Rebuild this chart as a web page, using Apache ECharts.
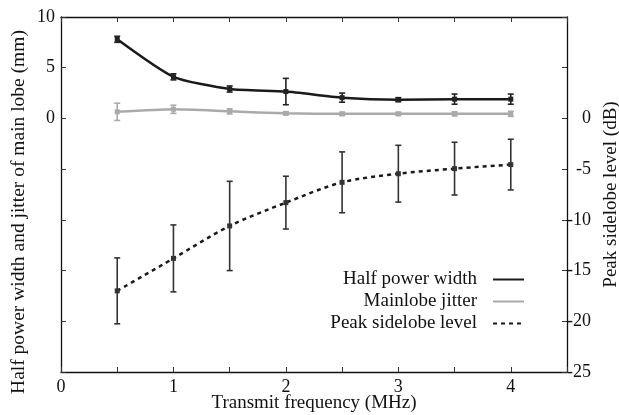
<!DOCTYPE html>
<html>
<head>
<meta charset="utf-8">
<script src="https://cdn.jsdelivr.net/npm/echarts@6/dist/echarts.min.js"></script>
<style>
  html, body { margin: 0; padding: 0; background: #fff; }
  #chart { width: 619px; height: 415px; }
</style>
</head>
<body>
<div id="chart"></div>
<script>
const freqs = [0.5, 1, 1.5, 2, 2.5, 3, 3.5, 4]
const halfPower = [7.8, 4.1, 2.9, 2.65, 2.05, 1.85, 1.9, 1.9]
const halfPowerErr = [0.3, 0.3, 0.3, 1.3, 0.45, 0.2, 0.5, 0.5]
const jitter = [0.65, 0.9, 0.7, 0.5, 0.45, 0.45, 0.45, 0.45]
const jitterErr = [0.85, 0.4, 0.25, 0.15, 0.15, 0.15, 0.2, 0.25]
const sidelobe = [-17, -13.8, -10.6, -8.3, -6.3, -5.45, -4.95, -4.55]
const sidelobeErr = [3.25, 3.3, 4.4, 2.6, 3.0, 2.8, 2.6, 2.5]

const FONT = 'Liberation Serif'

const chart = echarts.init(document.getElementById('chart'))

const lineData = (vals) => freqs.map((f, i) => [f, vals[i]])
const errData = (vals, errs) => freqs.map((f, i) => [f, vals[i] - errs[i], vals[i] + errs[i], vals[i]])

const errorBars = (name, vals, errs, color, yIdx) => ({
  name: name + ' err',
  type: 'custom',
  yAxisIndex: yIdx,
  z: 5,
  data: errData(vals, errs),
  renderItem: (params, api) => {
    const lo = api.coord([api.value(0), api.value(1)])
    const hi = api.coord([api.value(0), api.value(2)])
    const mid = api.coord([api.value(0), api.value(3)])
    const cap = 3
    const style = { stroke: color, lineWidth: 1.6, fill: null }
    return {
      type: 'group',
      children: [
        { type: 'line', shape: { x1: lo[0], y1: lo[1], x2: hi[0], y2: hi[1] }, style },
        { type: 'line', shape: { x1: lo[0] - cap, y1: lo[1], x2: lo[0] + cap, y2: lo[1] }, style },
        { type: 'line', shape: { x1: hi[0] - cap, y1: hi[1], x2: hi[0] + cap, y2: hi[1] }, style },
        { type: 'rect', shape: { x: mid[0] - 2.5, y: mid[1] - 2.5, width: 5, height: 5 }, style: { fill: color } }
      ]
    }
  }
})

const axisLineStyle = { color: '#111', width: 1.3 }
const tickStyle = { inside: true, length: 5, lineStyle: { color: '#333' } }

const option = {
  animation: false,
  grid: { left: 61, right: 52, top: 17, bottom: 43, outerBoundsMode: 'none' },
  textStyle: { fontFamily: FONT },
  legend: {
    orient: 'vertical',
    align: 'right',
    right: 89,
    top: 265,
    itemWidth: 31,
    itemHeight: 10,
    itemGap: 3,
    data: ['Half power width', 'Mainlobe jitter', 'Peak sidelobe level'],
    itemStyle: { opacity: 0 },
    textStyle: { fontFamily: FONT, fontSize: 19, color: '#111', padding: [0, 11, 0, 0] }
  },
  xAxis: [
    {
      type: 'value', min: 0, max: 4.5, interval: 0.5,
      position: 'bottom',
      name: 'Transmit frequency (MHz)',
      nameLocation: 'middle',
      nameGap: 22,
      nameMoveOverlap: false,
      nameTextStyle: { fontFamily: FONT, fontSize: 19, color: '#111', verticalAlign: 'top' },
      axisLine: { onZero: false, lineStyle: axisLineStyle },
      axisTick: tickStyle,
      axisLabel: {
        fontFamily: FONT, fontSize: 18, color: '#111', margin: 6,
        formatter: v => (Number.isInteger(v) && v <= 4 ? String(v) : '')
      },
      splitLine: { show: false }
    },
    {
      type: 'value', min: 0, max: 4.5, interval: 0.5,
      position: 'top',
      axisLine: { onZero: false, lineStyle: axisLineStyle },
      axisTick: tickStyle,
      axisLabel: { show: false },
      splitLine: { show: false }
    }
  ],
  yAxis: [
    {
      type: 'value', min: -25, max: 10, interval: 5,
      position: 'left',
      axisLine: { show: true, onZero: false, lineStyle: axisLineStyle },
      axisTick: tickStyle,
      axisLabel: {
        fontFamily: FONT, fontSize: 18, color: '#111', margin: 6,
        formatter: v => (v >= 0 ? String(v) : '')
      },
      splitLine: { show: false }
    },
    {
      type: 'value', min: -25, max: 10, interval: 5,
      position: 'right',
      name: 'Peak sidelobe level (dB)',
      nameLocation: 'middle',
      nameRotate: 90,
      nameGap: 33,
      nameTextStyle: { fontFamily: FONT, fontSize: 19, color: '#111' },
      axisLine: { show: true, onZero: false, lineStyle: axisLineStyle },
      axisTick: tickStyle,
      axisLabel: {
        fontFamily: FONT, fontSize: 18, color: '#111', margin: 24, align: 'right',
        formatter: v => (v <= 0 ? String(v) : '')
      },
      splitLine: { show: false }
    }
  ],
  graphic: [
    {
      type: 'text',
      x: 19,
      y: 212,
      rotation: Math.PI / 2,
      style: {
        text: 'Half power width and jitter of main lobe (mm)',
        fontFamily: FONT,
        fontSize: 19.5,
        fill: '#111',
        align: 'center',
        verticalAlign: 'middle'
      }
    }
  ],
  series: [
    {
      name: 'Half power width',
      type: 'line',
      data: lineData(halfPower),
      symbol: 'none',
      smooth: 0.2,
      lineStyle: { color: '#1a1a1a', width: 2.5 },
      itemStyle: { color: '#1a1a1a' }
    },
    {
      name: 'Mainlobe jitter',
      type: 'line',
      data: lineData(jitter),
      symbol: 'none',
      smooth: 0.2,
      lineStyle: { color: '#aaaaaa', width: 2.5 },
      itemStyle: { color: '#aaaaaa' }
    },
    {
      name: 'Peak sidelobe level',
      type: 'line',
      yAxisIndex: 1,
      data: lineData(sidelobe),
      symbol: 'none',
      smooth: 0.3,
      lineStyle: { color: '#1a1a1a', width: 2.5, type: [4, 4] },
      itemStyle: { color: '#1a1a1a' }
    },
    errorBars('Half power width', halfPower, halfPowerErr, '#222', 0),
    errorBars('Mainlobe jitter', jitter, jitterErr, '#aaaaaa', 0),
    errorBars('Peak sidelobe level', sidelobe, sidelobeErr, '#333', 1)
  ]
}

chart.setOption(option)
</script>
</body>
</html>
